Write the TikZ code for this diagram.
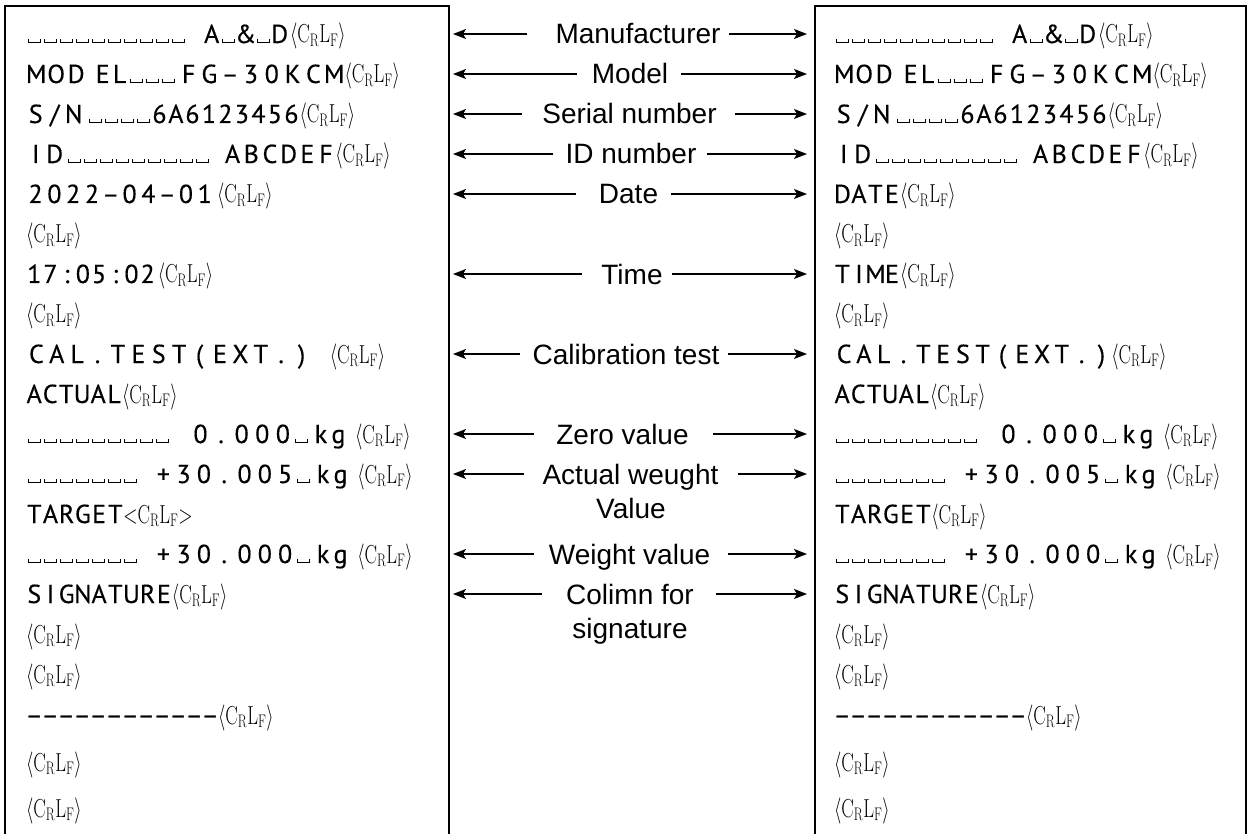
\RequirePackage{fix-cm}
\documentclass[tikz,border=0pt]{standalone}
\usepackage{fontspec}
\usepackage{graphicx}
\usetikzlibrary{arrows.meta}
\newfontfamily\prfont[FakeBold=0.3]{PT Sans}
\newfontfamily\lbfont{Liberation Sans}
\newcommand\vsbox{\kern1.5pt\rule{1pt}{4pt}\rule{11pt}{1pt}\rule{1pt}{4pt}\kern1.5pt}
\newcommand\crlf{{\fontsize{26}{26}\selectfont\scalebox{0.72}[1]{$\langle\mathrm{C_R L_F}\rangle$}}}
\newcommand\crlfl{{\fontsize{26}{26}\selectfont\scalebox{0.72}[1]{$\mathord{<}\mathrm{C_R L_F}\mathord{>}$}}}
% fixed-pitch cells: \cells{width}{characters}
\newcommand\cells[2]{\def\cellw{#1}\cellsi#2\relax}
\def\cellsi#1{\ifx\relax#1\else\makebox[\cellw][c]{#1}\expandafter\cellsi\fi}
% shared rows
\newcommand\rowAD{\vsbox\vsbox\vsbox\vsbox\vsbox\vsbox\vsbox\vsbox\vsbox\vsbox\kern17pt\cells{17pt}{A}\vsbox\cells{19pt}{\&}\vsbox\cells{17pt}{D}\kern2pt\crlf}
\newcommand\rowModel{\cells{20pt}{MOD}\kern8pt\cells{17pt}{EL}\vsbox\vsbox\vsbox\kern2pt\cells{20.8pt}{FG–30KCM}\crlf}
\newcommand\rowSN{\cells{19pt}{S/N}\kern4pt\vsbox\vsbox\vsbox\vsbox\cells{16.5pt}{6A6123456}\crlf}
\newcommand\rowID{\cells{19pt}{ID}\kern2pt\vsbox\vsbox\vsbox\vsbox\vsbox\vsbox\vsbox\vsbox\vsbox\kern13pt\cells{18.7pt}{ABCDEF}\crlf}
\newcommand\rowZero{\vsbox\vsbox\vsbox\vsbox\vsbox\vsbox\vsbox\vsbox\vsbox\kern20pt\cells{20.6pt}{0.000}\vsbox\kern3pt\cells{17.5pt}{kg}\kern8pt\crlf}
\newcommand\rowPlus[1]{\vsbox\vsbox\vsbox\vsbox\vsbox\vsbox\vsbox\kern15pt\cells{20.3pt}{+30.00#1}\vsbox\kern3pt\cells{17.5pt}{kg}\kern8pt\crlf}
\newcommand\calt[1]{\cells{#1}{CAL.TEST(EXT.)}}
\newcommand\dashrow{{\addfontfeature{FakeBold=1.2}\cells{16pt}{––––––––––––}}}
\begin{document}
\begin{tikzpicture}[x=1pt,y=-1pt,
  rowtext/.style={anchor=base west, inner sep=0pt, font=\prfont\fontsize{26}{26}\selectfont},
  lab/.style={anchor=base, inner sep=0pt, font=\lbfont\fontsize{28}{28}\selectfont},
  arr/.style={-{Stealth[length=13pt,width=10pt,inset=3pt]}, line width=1.4pt},
  frame/.style={line width=2pt}]
\useasboundingbox (0,0) rectangle (1250,834);
% frames
\draw[frame] (5,834) -- (5,6) -- (449,6) -- (449,834);
\draw[frame] (815,834) -- (815,6) -- (1246,6) -- (1246,834);

% left printout
\node[rowtext] (l1) at (26,43) {\rowAD};
\node[rowtext] (l2) at (26,83) {\rowModel};
\node[rowtext] (l3) at (26,123) {\rowSN};
\node[rowtext] (l4) at (26,163) {\rowID};
\node[rowtext] (l5) at (26,203) {\cells{18.8pt}{2022–04–01}\kern3pt\crlf};
\node[rowtext] (l6) at (26,243) {\crlf};
\node[rowtext] (l7) at (26,283) {\cells{16.2pt}{17:05:02}\kern2pt\crlf};
\node[rowtext] (l8) at (26,323) {\crlf};
\node[rowtext] (l9) at (26,363) {\calt{20.4pt}\kern18pt\crlf};
\node[rowtext] (l10) at (26,403) {\cells{16pt}{ACTUAL}\crlf};
\node[rowtext] (l11) at (26,443) {\rowZero};
\node[rowtext] (l12) at (26,483) {\rowPlus{5}};
\node[rowtext] (l13) at (26,523) {\cells{16.2pt}{TARGET}\crlfl};
\node[rowtext] (l14) at (26,563) {\rowPlus{0}};
\node[rowtext] (l15) at (26,603) {\cells{16.2pt}{SIGNATURE}\crlf};
\node[rowtext] (l16) at (26,643) {\crlf};
\node[rowtext] (l17) at (26,683) {\crlf};
\node[rowtext] (l18) at (26,724) {\dashrow\crlf};
\node[rowtext] (l19) at (26,771) {\crlf};
\node[rowtext] (l20) at (26,817) {\crlf};

% right printout
\node[rowtext] (r1) at (834,43) {\rowAD};
\node[rowtext] (r2) at (834,83) {\rowModel};
\node[rowtext] (r3) at (834,123) {\rowSN};
\node[rowtext] (r4) at (834,163) {\rowID};
\node[rowtext] (r5) at (834,203) {\cells{16.5pt}{DATE}\crlf};
\node[rowtext] (r6) at (834,243) {\crlf};
\node[rowtext] (r7) at (834,283) {\cells{16.5pt}{TIME}\crlf};
\node[rowtext] (r8) at (834,323) {\crlf};
\node[rowtext] (r9) at (834,363) {\calt{19.8pt}\crlf};
\node[rowtext] (r10) at (834,403) {\cells{16pt}{ACTUAL}\crlf};
\node[rowtext] (r11) at (834,443) {\rowZero};
\node[rowtext] (r12) at (834,483) {\rowPlus{5}};
\node[rowtext] (r13) at (834,523) {\cells{16.2pt}{TARGET}\crlf};
\node[rowtext] (r14) at (834,563) {\rowPlus{0}};
\node[rowtext] (r15) at (834,603) {\cells{16.2pt}{SIGNATURE}\crlf};
\node[rowtext] (r16) at (834,643) {\crlf};
\node[rowtext] (r17) at (834,683) {\crlf};
\node[rowtext] (r18) at (834,724) {\dashrow\crlf};
\node[rowtext] (r19) at (834,771) {\crlf};
\node[rowtext] (r20) at (834,817) {\crlf};

% arrow end points at the frames
\foreach \n/\y in {1/34,2/74,3/114,4/154,5/194,7/274,9/354,11/434,12/474,14/554,15/594}{
  \coordinate (L\n) at (453,\y);
  \coordinate (R\n) at (807,\y);
}

% middle labels
\node[lab] (m1) at (638,44) {Manufacturer};
\node[lab] (m2) at (630,84) {Model};
\node[lab] (m3) at (629.5,124) {Serial number};
\node[lab] (m4) at (631,164) {ID number};
\node[lab] (m5) at (628.5,204) {Date};
\node[lab] (m7) at (632,284) {Time};
\node[lab] (m9) at (626,364) {Calibration test};
\node[lab] (m11) at (622.5,444) {Zero value};
\node[lab] (m12) at (630.5,484) {Actual weught};
\node[lab] (m12b) at (631,518) {Value};
\node[lab] (m14) at (629.5,564) {Weight value};
\node[lab] (m15) at (630,604) {Colimn for};
\node[lab] (m15b) at (630,638) {signature};

% arrows
\foreach \n/\gl/\gr in {1/28/8,2/15/13,3/20/18,4/12/10,5/23/13,7/19/9,9/12/8,11/22/24,12/18/19,14/15/18,15/24/22}{
  \draw[arr, shorten <=\gl pt] (m\n.west |- L\n) -- (L\n);
  \draw[arr, shorten <=\gr pt] (m\n.east |- R\n) -- (R\n);
}
\end{tikzpicture}
\end{document}
